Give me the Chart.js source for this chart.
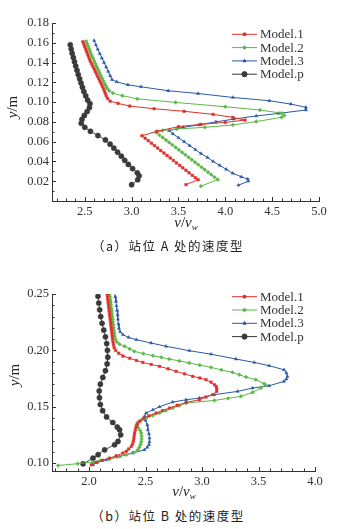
<!DOCTYPE html>
<html>
<head>
<meta charset="utf-8">
<script src="https://cdn.jsdelivr.net/npm/chart.js@4.4.0/dist/chart.umd.min.js"></script>
<style>
body { margin: 0; background: #fff; width: 354px; height: 529px; position: relative; overflow: hidden; }
.box { position: absolute; left: 0; width: 354px; height: 232px; }
.xt { position: absolute; transform: translateX(-50%); font-family: "Liberation Serif", serif; font-size: 15px; line-height: 16px; color: #222; white-space: nowrap; }
.yt { position: absolute; transform: translate(-50%, -50%) rotate(-90deg); font-family: "Liberation Serif", serif; font-size: 15px; line-height: 16px; color: #222; white-space: nowrap; }
.cap { position: absolute; transform: translateX(-50%); font-family: "Noto Sans CJK SC", sans-serif; font-size: 12.5px; line-height: 16px; letter-spacing: 1.5px; color: #222; white-space: nowrap; }
sub { font-size: 9px; vertical-align: -3px; }
</style>
</head>
<body>
<div class="box" style="top:0px"><canvas id="chartA" width="354" height="232"></canvas></div>
<div class="box" style="top:270px"><canvas id="chartB" width="354" height="232"></canvas></div>
<div class="xt" style="left:186px;top:214px"><i>v</i>/<i>v</i><sub><i>w</i></sub></div>
<div class="xt" style="left:184px;top:483px"><i>v</i>/<i>v</i><sub><i>w</i></sub></div>
<div class="yt" style="left:12px;top:107px"><i>y</i>/m</div>
<div class="yt" style="left:14px;top:375px"><i>y</i>/m</div>
<div class="cap" style="left:168px;top:238px">（a）站位 A 处的速度型</div>
<div class="cap" style="left:168px;top:508px">（b）站位 B 处的速度型</div>
<script>
// series names and tick labels
var seriesNames = ['Model.1', 'Model.2', 'Model.3', 'Model.p'];
var xTicksA = [2.5, 3.0, 3.5, 4.0, 4.5, 5.0];
var yTicksA = [0.02, 0.04, 0.06, 0.08, 0.10, 0.12, 0.14, 0.16, 0.18];
var xTicksB = [2.0, 2.5, 3.0, 3.5, 4.0];
var yTicksB = [0.10, 0.15, 0.20, 0.25];

// station A, [v/vw, y]
var a1 = [[2.48,0.161],[2.49,0.1585],[2.50,0.156],[2.51,0.1535],[2.52,0.151],[2.53,0.1485],[2.54,0.146],[2.55,0.1435],[2.56,0.141],[2.575,0.1385],[2.587,0.136],[2.60,0.1335],[2.612,0.131],[2.625,0.1285],[2.637,0.126],[2.65,0.1235],[2.662,0.121],[2.675,0.1185],[2.687,0.116],[2.70,0.1135],[2.71,0.111],[2.72,0.1085],[2.73,0.106],[2.745,0.1035],[2.77,0.101],
  [2.855,0.0987],[2.98,0.096],[3.24,0.0933],[3.56,0.0907],[3.87,0.0876],[4.08,0.0846],[4.21,0.0818],
  [4.0,0.0795],[3.74,0.0775],[3.50,0.0752],[3.27,0.0705],[3.11,0.066],
  [3.144,0.0635],[3.177,0.061],[3.211,0.0585],[3.244,0.056],[3.278,0.0535],[3.311,0.051],[3.345,0.0485],[3.378,0.046],[3.412,0.0435],[3.446,0.041],[3.479,0.0385],[3.513,0.036],[3.546,0.0335],[3.58,0.031],[3.613,0.0285],[3.647,0.026],[3.68,0.0235],[3.71,0.0215],[3.58,0.0165]];
var a2 = [[2.515,0.1615],[2.525,0.159],[2.535,0.1565],[2.545,0.154],[2.555,0.1515],[2.565,0.149],[2.577,0.1465],[2.589,0.144],[2.60,0.1415],[2.612,0.139],[2.624,0.1365],[2.636,0.134],[2.648,0.1315],[2.66,0.129],[2.672,0.1265],[2.685,0.124],[2.697,0.1215],[2.71,0.119],[2.724,0.1165],[2.738,0.114],[2.76,0.1115],[2.80,0.109],
  [2.90,0.1065],[3.06,0.1033],[3.47,0.0997],[4.0,0.0953],[4.37,0.092],[4.60,0.0888],[4.63,0.0866],[4.60,0.0846],
  [4.33,0.0803],[4.08,0.0769],[3.78,0.0745],[3.48,0.0728],[3.33,0.0712],[3.262,0.0692],
  [3.297,0.0667],[3.331,0.0642],[3.366,0.0617],[3.40,0.0592],[3.435,0.0567],[3.47,0.0542],[3.504,0.0517],[3.538,0.0492],[3.573,0.0467],[3.607,0.0442],[3.642,0.0417],[3.677,0.0392],[3.711,0.0367],[3.746,0.0342],[3.78,0.0317],[3.815,0.0292],[3.849,0.0267],[3.884,0.0242],[3.92,0.0217],[3.74,0.015]];
var a3 = [[2.60,0.1623],[2.618,0.158],[2.638,0.1535],[2.66,0.149],[2.682,0.1445],[2.705,0.140],[2.728,0.1355],[2.75,0.131],[2.772,0.1265],[2.79,0.1228],[2.84,0.1205],[2.96,0.1175],[3.10,0.1155],[3.39,0.1115],[3.71,0.1087],[4.08,0.1047],[4.47,0.1014],[4.70,0.098],[4.86,0.0947],[4.86,0.092],
  [4.57,0.0886],[4.33,0.086],[4.09,0.0828],[3.90,0.080],[3.72,0.077],[3.55,0.0745],[3.40,0.0712],
  [3.44,0.068],[3.50,0.064],[3.56,0.060],[3.62,0.056],[3.68,0.052],[3.74,0.048],[3.81,0.044],[3.87,0.040],[3.94,0.036],[4.01,0.032],[4.08,0.028],[4.17,0.0245],[4.24,0.0222],[4.245,0.020],[4.14,0.016]];
var ap = [[2.345,0.158],[2.355,0.1537],[2.365,0.1494],[2.378,0.1451],[2.39,0.1408],[2.403,0.1365],[2.417,0.1322],[2.43,0.1279],[2.445,0.1236],[2.46,0.1193],[2.475,0.115],[2.49,0.1107],[2.51,0.1064],[2.53,0.1021],[2.555,0.0985],[2.55,0.0945],[2.525,0.0905],[2.495,0.0865],[2.47,0.0826],[2.462,0.0786],[2.50,0.0745],[2.56,0.0705],[2.64,0.0662],[2.72,0.0618],[2.77,0.0575],[2.81,0.0535],[2.85,0.0494],[2.89,0.0453],[2.926,0.0411],[2.965,0.037],[3.01,0.0328],[3.06,0.0285],[3.08,0.0255],[3.065,0.0215],[3.00,0.0165]];

// station B, [v/vw, y]
var b1 = [[2.160,0.25],[2.163,0.2475],[2.166,0.245],[2.169,0.2425],[2.172,0.24],[2.175,0.2375],[2.178,0.235],[2.181,0.2325],[2.184,0.23],[2.187,0.2275],[2.19,0.225],[2.193,0.2225],[2.196,0.22],[2.199,0.2175],[2.202,0.215],[2.205,0.2125],[2.208,0.21],[2.212,0.2075],[2.216,0.205],[2.222,0.2025],[2.235,0.200],
  [2.262,0.1975],[2.30,0.195],[2.36,0.193],[2.42,0.191],[2.476,0.1893],[2.55,0.1875],[2.624,0.1858],[2.70,0.1836],[2.77,0.1814],[2.845,0.1792],[2.918,0.1769],[2.98,0.1755],[3.035,0.174],[3.08,0.1718],[3.11,0.1695],[3.125,0.168],[3.13,0.166],[3.13,0.1636],
  [3.094,0.1607],[3.035,0.1586],[2.976,0.1562],[2.86,0.1538],[2.78,0.1513],[2.712,0.1488],[2.65,0.1466],[2.594,0.1444],[2.53,0.142],[2.48,0.1395],[2.447,0.137],[2.428,0.1345],[2.416,0.132],[2.41,0.1295],[2.404,0.127],[2.40,0.1245],[2.397,0.122],[2.393,0.1195],[2.385,0.117],[2.374,0.1148],[2.35,0.1125],[2.33,0.1105],[2.30,0.1089],[2.24,0.1065],[2.18,0.1044],[2.12,0.1025],[2.065,0.1006],[2.02,0.0985]];
var b2 = [[2.182,0.25],[2.185,0.2475],[2.188,0.245],[2.191,0.2425],[2.194,0.24],[2.197,0.2375],[2.20,0.235],[2.203,0.2325],[2.206,0.23],[2.209,0.2275],[2.212,0.225],[2.215,0.2225],[2.218,0.22],[2.221,0.2175],[2.224,0.215],[2.228,0.2125],[2.234,0.21],[2.245,0.2075],[2.27,0.2055],[2.315,0.2036],[2.36,0.2013],[2.40,0.1991],[2.48,0.1972],[2.565,0.1953],[2.64,0.1938],[2.71,0.1923],[2.80,0.1906],[2.888,0.1888],[2.98,0.1869],[3.08,0.1849],[3.17,0.1827],[3.27,0.1805],[3.33,0.1784],[3.39,0.1763],[3.476,0.174],[3.55,0.1704],[3.565,0.169],
  [3.52,0.1666],[3.447,0.1627],[3.344,0.1592],[3.23,0.1574],[3.109,0.1556],[2.859,0.1533],[2.80,0.151],[2.74,0.1488],[2.68,0.1466],[2.624,0.1444],[2.565,0.1422],[2.506,0.14],[2.46,0.138],[2.432,0.1361],[2.42,0.134],[2.435,0.1315],[2.452,0.129],[2.462,0.1266],[2.465,0.124],[2.465,0.1215],[2.462,0.119],[2.455,0.1165],[2.445,0.114],[2.432,0.1118],[2.39,0.1095],[2.33,0.1074],[2.25,0.1055],[2.18,0.1036],[2.10,0.1024],[2.035,0.101],[1.90,0.0995],[1.726,0.0979]];
var b3 = [[2.226,0.2515],[2.232,0.2475],[2.238,0.2435],[2.243,0.2395],[2.248,0.2355],[2.252,0.2315],[2.256,0.2275],[2.26,0.2235],[2.265,0.2195],[2.275,0.2165],[2.30,0.2139],[2.35,0.2115],[2.418,0.2095],[2.55,0.2065],[2.682,0.2036],[2.888,0.1997],[3.08,0.1966],[3.30,0.1923],[3.462,0.1893],[3.594,0.1864],[3.726,0.1828],[3.747,0.1799],[3.756,0.1769],[3.747,0.1746],[3.726,0.1725],
  [3.594,0.1686],[3.447,0.1666],[3.315,0.1636],[3.109,0.1607],[2.976,0.1577],[2.859,0.1562],[2.74,0.1541],[2.624,0.15],[2.565,0.1473],[2.506,0.1444],[2.49,0.1414],[2.50,0.138],[2.515,0.134],[2.52,0.1296],[2.53,0.126],[2.535,0.1222],[2.535,0.119],[2.53,0.1163],[2.515,0.114],[2.49,0.1118],[2.388,0.1089],[2.27,0.1059],[2.153,0.103],[2.07,0.1005],[2.035,0.0985]];
var bp = [[2.079,0.248],[2.086,0.242],[2.094,0.236],[2.103,0.23],[2.115,0.224],[2.13,0.218],[2.145,0.212],[2.156,0.206],[2.163,0.200],[2.166,0.194],[2.16,0.188],[2.145,0.182],[2.122,0.176],[2.10,0.170],[2.09,0.164],[2.092,0.158],[2.10,0.152],[2.12,0.1465],[2.155,0.141],[2.21,0.136],[2.25,0.132],[2.27,0.1296],[2.28,0.1251],[2.256,0.1192],[2.226,0.1163],[2.138,0.1118],[2.08,0.1075],[2.035,0.1044],[1.947,0.0994]];

// styles
var lineColors = ['#e0302b', '#5cb848', '#2b58a6', '#3a3a3a'];
var markerStyles = ['rect', 'rectRot', 'triangle', 'circle'];
var markerSizes = [1.8, 1.9, 1.8, 2.6];

Chart.defaults.font.family = "'Liberation Serif', 'Times New Roman', serif";
Chart.defaults.color = '#333';

function isMajor(list, v) {
    for (var i = 0; i < list.length; i++) {
        if (Math.abs(list[i] - v) < 1e-9) return true;
    }
    return false;
}

function tickList(min, max, scale) {
    var out = [];
    for (var i = Math.ceil(min * scale - 1e-6); i <= Math.floor(max * scale + 1e-6); i++) {
        out.push(i / scale);
    }
    return out;
}

var decoPlugin = {
    id: 'deco',
    afterDraw: function (chart, args, opts) {
        var ctx = chart.ctx;
        var xs = chart.scales.x, ys = chart.scales.y;
        var area = chart.chartArea;
        ctx.save();
        ctx.strokeStyle = '#333';
        ctx.lineWidth = 1;
        ctx.beginPath();
        xs.ticks.forEach(function (t) {
            var px = Math.round(xs.getPixelForValue(t.value)) + 0.5;
            var len = isMajor(opts.xMajor, t.value) ? 4 : 2.5;
            ctx.moveTo(px, area.bottom);
            ctx.lineTo(px, area.bottom - len);
        });
        ys.ticks.forEach(function (t) {
            var py = Math.round(ys.getPixelForValue(t.value)) + 0.5;
            var len = isMajor(opts.yMajor, t.value) ? 4 : 2.5;
            ctx.moveTo(area.left, py);
            ctx.lineTo(area.left + len, py);
        });
        ctx.stroke();

        // legend inside the plot
        ctx.font = "13px 'Liberation Serif', serif";
        ctx.textBaseline = 'middle';
        ctx.textAlign = 'left';
        chart.data.datasets.forEach(function (ds, i) {
            var y = opts.legendTop + i * 13.3;
            ctx.strokeStyle = ds.borderColor;
            ctx.lineWidth = 1;
            ctx.beginPath();
            ctx.moveTo(232, y);
            ctx.lineTo(257, y);
            ctx.stroke();
            ctx.fillStyle = ds.borderColor;
            Chart.helpers.drawPoint(ctx, {
                pointStyle: ds.pointStyle,
                radius: ds.pointRadius,
                rotation: 0,
                borderWidth: 0.5
            }, 244.5, y);
            ctx.fillStyle = '#333';
            ctx.fillText(ds.label, 260, y + 0.5);
        });
        ctx.restore();
    }
};

function makeChart(id, series, xMin, xMax, yMin, yMax, xMajor, yMajor, padTop, padRight, legendTop) {
    var datasets = series.map(function (s, i) {
        return {
            label: seriesNames[i],
            data: s.map(function (p) { return { x: p[0], y: p[1] }; }),
            showLine: true,
            borderColor: lineColors[i],
            backgroundColor: lineColors[i],
            borderWidth: i == 3 ? 0.9 : 1,
            pointStyle: markerStyles[i],
            pointRadius: markerSizes[i],
            pointBackgroundColor: lineColors[i],
            pointBorderColor: lineColors[i],
            pointBorderWidth: 0.5,
            tension: 0
        };
    });
    return new Chart(document.getElementById(id), {
        type: 'scatter',
        data: { datasets: datasets },
        plugins: [decoPlugin],
        options: {
            responsive: false,
            animation: false,
            devicePixelRatio: 1,
            layout: { padding: { top: padTop, right: padRight, left: 0, bottom: 0 } },
            plugins: {
                legend: { display: false },
                tooltip: { enabled: false },
                deco: { xMajor: xMajor, yMajor: yMajor, legendTop: legendTop }
            },
            scales: {
                x: {
                    type: 'linear',
                    min: xMin,
                    max: xMax,
                    grid: { display: false, drawTicks: false },
                    border: { display: true, color: '#333', width: 1 },
                    afterBuildTicks: function (axis) {
                        axis.ticks = tickList(xMin, xMax, 10).map(function (v) { return { value: v }; });
                    },
                    afterFit: function (axis) { axis.height = 31; },
                    ticks: {
                        autoSkip: false,
                        maxRotation: 0,
                        padding: 3,
                        font: { size: 12.5, family: "'Liberation Serif', serif" },
                        color: '#333',
                        callback: function (v) { return isMajor(xMajor, v) ? v.toFixed(1) : ''; }
                    }
                },
                y: {
                    type: 'linear',
                    min: yMin,
                    max: yMax,
                    grid: { display: false, drawTicks: false },
                    border: { display: true, color: '#333', width: 1 },
                    afterBuildTicks: function (axis) {
                        axis.ticks = tickList(yMin, yMax, 100).map(function (v) { return { value: v }; });
                    },
                    afterFit: function (axis) { axis.width = 52; },
                    ticks: {
                        autoSkip: false,
                        padding: 3,
                        font: { size: 12.5, family: "'Liberation Serif', serif" },
                        color: '#333',
                        callback: function (v) { return isMajor(yMajor, v) ? v.toFixed(2) : ''; }
                    }
                }
            }
        }
    });
}

makeChart('chartA', [a1, a2, a3, ap], 2.15, 5.0, 0, 0.18, xTicksA, yTicksA, 23, 35, 34.3);
makeChart('chartB', [b1, b2, b3, bp], 1.672, 4.0, 0.093, 0.25, xTicksB, yTicksB, 24, 39, 26.7);
</script>
</body>
</html>
